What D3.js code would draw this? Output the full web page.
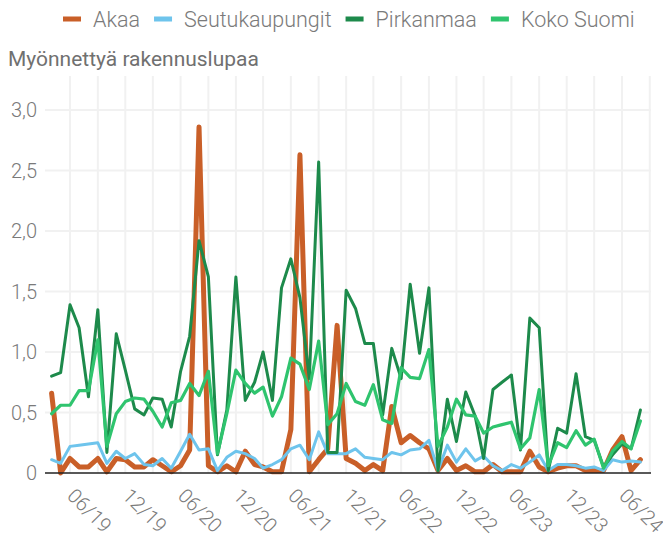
<!DOCTYPE html>
<meta charset="utf-8">
<script src="https://d3js.org/d3.v7.min.js"></script>
<body style="margin:0;background:#fff">
<svg width="663" height="542"></svg>
<script>
// kuukausittaiset arvot 04/2019 - 08/2024
const START = new Date(2019, 3, 1);
const SERIES = ['Akaa', 'Seutukaupungit', 'Pirkanmaa', 'Koko Suomi'];
const COLORS = ['#c95f28', '#6ec4ec', '#1d8a4b', '#2fc46e'];
const WIDTHS = [5, 3, 3, 3.2];

const akaa = [0.66,0,0.12,0.05,0.05,0.12,0.01,0.12,0.11,0.05,0.05,0.11,0.06,0.01,0.06,0.19,2.86,0.06,0.01,0.06,
  0.01,0.18,0.07,0.05,0.01,0.01,0.36,2.63,0.01,0.11,0.20,1.22,0.12,0.08,0.02,0.07,0.02,0.55,0.25,0.31,
  0.25,0.20,0.02,0.12,0.02,0.06,0.01,0.01,0.07,0.01,0.01,0.01,0.18,0.05,0.01,0.04,0.06,0.06,0.02,0.02,
  0.02,0.19,0.30,0.02,0.11];
const seutu = [0.11,0.08,0.22,0.23,0.24,0.25,0.08,0.18,0.12,0.16,0.07,0.06,0.12,0.04,0.18,0.32,0.19,0.20,0.02,0.13,
  0.18,0.16,0.12,0.04,0.07,0.11,0.20,0.23,0.11,0.34,0.16,0.16,0.16,0.20,0.13,0.12,0.11,0.17,0.15,0.19,
  0.20,0.27,0.02,0.23,0.09,0.20,0.10,0.14,0.06,0.02,0.07,0.04,0.09,0.15,0.02,0.07,0.07,0.06,0.04,0.05,
  0.02,0.11,0.09,0.10,0.09];
const pirkanmaa = [0.80,0.83,1.39,1.20,0.63,1.35,0.17,1.15,0.85,0.53,0.48,0.62,0.61,0.38,0.84,1.13,1.92,1.62,0.15,0.52,
  1.62,0.60,0.75,1.00,0.60,1.53,1.77,1.45,0.78,2.57,0.17,0.17,1.51,1.36,1.07,1.07,0.48,1.03,0.78,1.56,
  0.99,1.53,0.02,0.61,0.26,0.67,0.47,0.12,0.69,0.75,0.81,0.19,1.28,1.20,0.02,0.37,0.33,0.82,0.30,0.27,
  0.05,0.15,0.24,0.20,0.52];
const kokoSuomi = [0.49,0.56,0.56,0.68,0.68,1.10,0.22,0.49,0.59,0.62,0.61,0.51,0.38,0.58,0.60,0.74,0.64,0.84,0.16,0.49,
  0.85,0.74,0.66,0.71,0.47,0.63,0.95,0.90,0.69,1.09,0.40,0.49,0.74,0.59,0.56,0.73,0.44,0.41,0.87,0.79,
  0.78,1.02,0.22,0.38,0.61,0.48,0.47,0.33,0.38,0.40,0.42,0.20,0.29,0.69,0.06,0.25,0.21,0.35,0.23,0.28,
  0.04,0.18,0.26,0.20,0.43];
const yTicks = [0, 0.5, 1, 1.5, 2, 2.5, 3];

const values = [akaa, seutu, pirkanmaa, kokoSuomi];
const dates = akaa.map((_, i) => d3.timeMonth.offset(START, i));

const plotLeft = 45, plotRight = 651, plotTop = 76, plotBottom = 473;
const svg = d3.select('svg');

const x = d3.scaleTime()
  .domain([dates[0], dates[dates.length - 1]])
  .range([51.6, 640.4]);
const y = d3.scaleLinear().domain([0, 3]).range([plotBottom, 110]);

const grey = '#7a7a7a';
const tickFont = 'Roboto, sans-serif';

// ruudukko
const xMin = x.invert(plotLeft), xMax = x.invert(plotRight);
const quarters = d3.timeMonth.filter(d => d.getMonth() % 3 === 2).range(xMin, xMax);
svg.append('g').selectAll('line').data(quarters).join('line')
  .attr('x1', d => x(d)).attr('x2', d => x(d))
  .attr('y1', plotTop).attr('y2', plotBottom)
  .attr('stroke', '#f1f1f1').attr('stroke-width', 2);
svg.append('g').selectAll('line').data(yTicks.slice(1)).join('line')
  .attr('x1', plotLeft).attr('x2', plotRight)
  .attr('y1', d => y(d)).attr('y2', d => y(d))
  .attr('stroke', '#f1f1f1').attr('stroke-width', 2);

// y-akselin luvut
svg.append('g').selectAll('text').data(yTicks).join('text')
  .attr('x', 37).attr('y', d => y(d))
  .attr('text-anchor', 'end').attr('dominant-baseline', 'central')
  .attr('fill', grey).style('font', '300 20px ' + tickFont)
  .text(d => d === 0 ? '0' : d.toFixed(1).replace('.', ','));

// x-akselin luvut
const halfYears = quarters.filter(d => d.getMonth() % 6 === 5);
svg.append('g').selectAll('text').data(halfYears).join('text')
  .attr('transform', d => `translate(${x(d) + 1},${492}) rotate(45)`)
  .attr('dominant-baseline', 'central')
  .attr('fill', grey).style('font', '300 20px ' + tickFont)
  .text(d => d3.timeFormat('%m/%y')(d));

// viivat
const line = d3.line().x((d, i) => x(dates[i])).y(d => y(d));
svg.append('g').selectAll('path').data(values).join('path')
  .attr('d', line)
  .attr('fill', 'none')
  .attr('stroke', (d, i) => COLORS[i])
  .attr('stroke-width', (d, i) => WIDTHS[i])
  .attr('stroke-linejoin', 'round')
  .attr('stroke-linecap', 'round');

svg.append('line')
  .attr('x1', plotLeft).attr('x2', plotRight).attr('y1', plotBottom).attr('y2', plotBottom)
  .attr('stroke', '#222').attr('stroke-width', 1.5);

// otsikko
const title = svg.append('text')
  .attr('x', 8).attr('y', 66)
  .attr('fill', '#707070')
  .style('font', '20px Roboto, sans-serif')
  .text('Myönnettyä rakennuslupaa');
const tw = title.node().getComputedTextLength();
title.style('font-size', (20 * 251 / tw) + 'px');

// selite
const legend = svg.append('g');
let lx = 63;
SERIES.forEach((name, i) => {
  legend.append('rect')
    .attr('x', lx).attr('y', 16.5).attr('width', 18).attr('height', 5)
    .attr('fill', COLORS[i]);
  const t = legend.append('text')
    .attr('x', lx + 30).attr('y', 26.5)
    .attr('fill', grey).style('font', '300 21.5px ' + tickFont)
    .text(name);
  lx += 30 + t.node().getComputedTextLength() + 14;
});
</script>
</body>
